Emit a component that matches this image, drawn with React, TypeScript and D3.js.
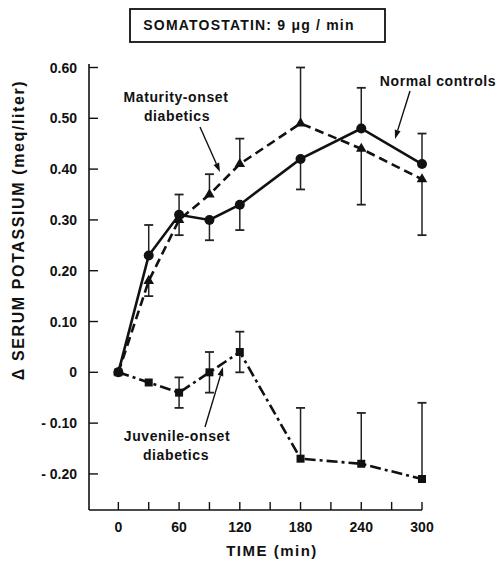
import React from "react";
import * as d3 from "d3";

const times = [0, 30, 60, 90, 120, 180, 240, 300];
const normal = [0, 0.23, 0.31, 0.3, 0.33, 0.42, 0.48, 0.41];
const normalUp = [0, 0.06, 0.04, 0, 0, 0, 0.08, 0.06];
const normalDown = [0, 0, 0, 0.04, 0.05, 0.06, 0, 0];
const maturity = [0, 0.18, 0.3, 0.35, 0.41, 0.49, 0.44, 0.38];
const maturityUp = [0, 0, 0, 0.04, 0.05, 0.11, 0, 0];
const maturityDown = [0, 0.03, 0.03, 0, 0, 0, 0.11, 0.11];
const juvenile = [0, -0.02, -0.04, 0.0, 0.04, -0.17, -0.18, -0.21];
const juvenileUp = [0, 0, 0.03, 0.04, 0.04, 0.1, 0.1, 0.15];
const juvenileDown = [0, 0, 0.03, 0.04, 0.04, 0, 0, 0];
const xTicks = [0, 30, 60, 90, 120, 150, 180, 210, 240, 270, 300];
const xTickLabels = [0, 60, 120, 180, 240, 300];
const yTicks = [0.6, 0.5, 0.4, 0.3, 0.2, 0.1, 0, -0.1, -0.2];
const yTickLabels = ["0.60", "0.50", "0.40", "0.30", "0.20", "0.10", "0", "- 0.10", "- 0.20"];

const FONT = "'Liberation Sans', Arial, sans-serif";

export default function App() {
  const x = d3.scaleLinear().domain([-29, 300]).range([89, 422]);
  const y = d3.scaleLinear().domain([-0.271, 0.6]).range([510, 67.5]);
  const line = d3
    .line<number>()
    .x((_, i) => x(times[i]))
    .y((d) => y(d));

  const errBars = (vals: number[], up: number[], down: number[], key: string) =>
    vals.map((v, i) => {
      const items: React.ReactNode[] = [];
      const cx = x(times[i]);
      if (up[i] > 0) {
        const yt = y(v + up[i]);
        items.push(
          <g key={key + "u" + i}>
            <line x1={cx} x2={cx} y1={y(v)} y2={yt} stroke="#222" strokeWidth={1.5} />
            <line x1={cx - 4.5} x2={cx + 4.5} y1={yt} y2={yt} stroke="#222" strokeWidth={1.8} />
          </g>
        );
      }
      if (down[i] > 0) {
        const yb = y(v - down[i]);
        items.push(
          <g key={key + "d" + i}>
            <line x1={cx} x2={cx} y1={y(v)} y2={yb} stroke="#222" strokeWidth={1.5} />
            <line x1={cx - 4.5} x2={cx + 4.5} y1={yb} y2={yb} stroke="#222" strokeWidth={1.8} />
          </g>
        );
      }
      return items;
    });

  const tri = d3.symbol().type(d3.symbolTriangle).size(48)();

  const arrow = (x1: number, y1: number, x2: number, y2: number) => {
    const ang = Math.atan2(y2 - y1, x2 - x1);
    const L = 9, W = 3;
    const bx = x2 - L * Math.cos(ang), by = y2 - L * Math.sin(ang);
    const px = -Math.sin(ang) * W, py = Math.cos(ang) * W;
    return (
      <g>
        <line x1={x1} y1={y1} x2={bx} y2={by} stroke="#111" strokeWidth={1.4} />
        <path d={`M${x2},${y2}L${bx + px},${by + py}L${bx - px},${by - py}Z`} fill="#111" />
      </g>
    );
  };

  const annot = { fontSize: 14, fontWeight: "bold" as const, fill: "#111", letterSpacing: 0.6 };

  return (
    <svg width={497} height={562} style={{ position: "absolute", left: 0, top: 0, background: "#fff" }} fontFamily={FONT}>
      <rect x={0} y={0} width={497} height={562} fill="#fff" />
      {/* title box */}
      <rect x={130} y={9} width={255} height={33} fill="none" stroke="#111" strokeWidth={1.8} />
      <text x={249} y={30} textAnchor="middle" fontSize={14} fontWeight="bold" letterSpacing={1.2} fill="#111">
        SOMATOSTATIN:  9 μg / min
      </text>

      {/* axes */}
      <line x1={89} x2={89} y1={64} y2={510} stroke="#111" strokeWidth={1.6} />
      <line x1={89} x2={422} y1={510} y2={510} stroke="#111" strokeWidth={1.6} />
      {yTicks.map((t, i) => (
        <g key={"yt" + i}>
          <line x1={89} x2={98} y1={y(t)} y2={y(t)} stroke="#111" strokeWidth={1.4} />
          <text x={77} y={y(t) + 5} textAnchor="end" fontSize={14} fontWeight="bold" fill="#111">
            {yTickLabels[i]}
          </text>
        </g>
      ))}
      {xTicks.map((t, i) => (
        <line key={"xt" + i} x1={x(t)} x2={x(t)} y1={510} y2={502} stroke="#111" strokeWidth={1.4} />
      ))}
      {xTickLabels.map((t, i) => (
        <text key={"xl" + i} x={x(t)} y={532} textAnchor="middle" fontSize={14} fontWeight="bold" fill="#111">
          {t}
        </text>
      ))}
      <text x={272} y={556} textAnchor="middle" fontSize={15} fontWeight="bold" letterSpacing={1.5} fill="#111">
        TIME (min)
      </text>
      <text
        transform={`translate(24,230) rotate(-90)`}
        textAnchor="middle"
        fontSize={16}
        fontWeight="bold"
        letterSpacing={1.6}
        fill="#111"
      >
        Δ SERUM POTASSIUM (meq/liter)
      </text>

      {/* error bars */}
      {errBars(normal, normalUp, normalDown, "n")}
      {errBars(maturity, maturityUp, maturityDown, "m")}
      {errBars(juvenile, juvenileUp, juvenileDown, "j")}

      {/* lines */}
      <path d={line(normal) || ""} fill="none" stroke="#111" strokeWidth={2.6} />
      <path d={line(maturity) || ""} fill="none" stroke="#111" strokeWidth={2.6} strokeDasharray="9,5" />
      <path d={line(juvenile) || ""} fill="none" stroke="#111" strokeWidth={2.6} strokeDasharray="11,4,3,4" />

      {/* markers */}
      {normal.map((v, i) => (
        <circle key={"nc" + i} cx={x(times[i])} cy={y(v)} r={5} fill="#111" />
      ))}
      {maturity.map((v, i) => (
        <path key={"mt" + i} d={tri || ""} transform={`translate(${x(times[i])},${y(v)})`} fill="#111" />
      ))}
      {juvenile.map((v, i) => (
        <rect key={"js" + i} x={x(times[i]) - 4} y={y(v) - 4} width={8} height={8} fill="#111" />
      ))}

      {/* annotations */}
      <text x={176} y={102} textAnchor="middle" {...annot}>
        Maturity-onset
      </text>
      <text x={177} y={121} textAnchor="middle" {...annot}>
        diabetics
      </text>
      {arrow(200, 127, 220, 172)}

      <text x={438} y={86} textAnchor="middle" {...annot}>
        Normal controls
      </text>
      {arrow(410, 91, 395, 139)}

      <text x={177} y={441} textAnchor="middle" {...annot}>
        Juvenile-onset
      </text>
      <text x={176} y={460} textAnchor="middle" {...annot}>
        diabetics
      </text>
      {arrow(205, 427, 223, 367)}
    </svg>
  );
}
